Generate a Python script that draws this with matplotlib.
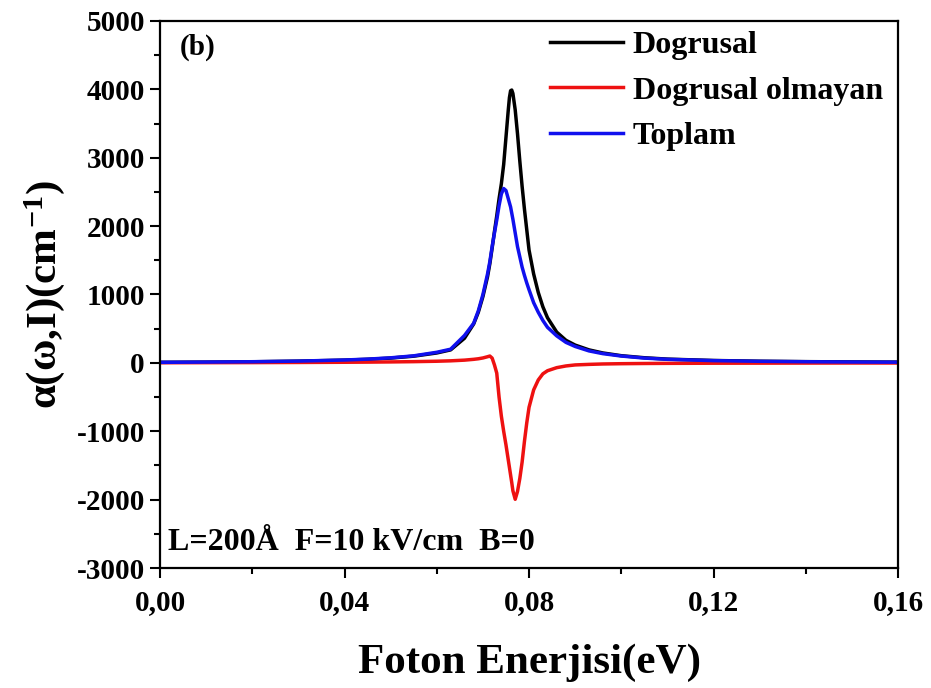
import matplotlib
matplotlib.use("Agg")
import matplotlib.pyplot as plt
from matplotlib.ticker import MultipleLocator, FuncFormatter

plt.rcParams['font.family'] = ['Liberation Serif', 'DejaVu Serif']
plt.rcParams['font.weight'] = 'bold'
plt.rcParams['mathtext.fontset'] = 'custom'
plt.rcParams['mathtext.rm'] = 'Liberation Serif:bold'
plt.rcParams['mathtext.it'] = 'Liberation Serif:bold'
plt.rcParams['mathtext.bf'] = 'Liberation Serif:bold'
plt.rcParams['axes.unicode_minus'] = False

# photon energy (eV)
energy = [0, 0.01, 0.02, 0.03, 0.04, 0.045, 0.05, 0.055, 0.06, 0.063, 0.066,
          0.068, 0.069, 0.070, 0.071, 0.0715, 0.072, 0.0725, 0.073, 0.0735,
          0.074, 0.0745, 0.075, 0.0755, 0.07575, 0.076, 0.07625, 0.0765,
          0.077, 0.0775, 0.078, 0.0785, 0.079, 0.0795, 0.080, 0.081, 0.082,
          0.083, 0.084, 0.086, 0.088, 0.090, 0.093, 0.096, 0.10, 0.105, 0.11,
          0.12, 0.13, 0.14, 0.15, 0.16]

# linear absorption (Dogrusal)
linear = [8, 11, 16, 25, 40, 52, 70, 98, 145, 190, 360,
          570, 740, 970, 1260, 1450, 1680, 1920, 2150, 2400,
          2620, 2900, 3300, 3700, 3880, 3980, 3990, 3940,
          3700, 3350, 2950, 2580, 2250, 1950, 1650, 1300, 1030,
          820, 660, 450, 330, 260, 190, 145, 105, 75, 55,
          35, 24, 18, 14, 11]

# nonlinear absorption (Dogrusal olmayan)
nonlinear = [2, 3, 4, 6, 9, 11, 14, 18, 24, 30, 40,
             52, 60, 72, 90, 100, 70, -30, -150, -500,
             -780, -1000, -1200, -1420, -1530, -1640, -1750, -1870,
             -1995, -1880, -1690, -1450, -1150, -880, -650, -395, -250,
             -160, -115, -70, -45, -30, -22, -16, -12, -9, -7,
             -5, -4, -3, -2, -2]

# total (Toplam)
total = [8, 12, 17, 26, 42, 55, 74, 103, 155, 200, 400,
         580, 760, 1000, 1300, 1480, 1700, 1900, 2090, 2300,
         2470, 2550, 2520, 2400, 2340, 2280, 2190, 2100,
         1900, 1700, 1550, 1400, 1280, 1170, 1070, 880, 740,
         620, 520, 395, 300, 240, 175, 135, 100, 70, 52,
         33, 23, 17, 13, 10]

fig = plt.figure(figsize=(9.31, 6.88), dpi=100)
ax = fig.add_axes([0.1719, 0.1744, 0.7927, 0.7951])

ax.plot(energy, linear, color='black', lw=2.5, label='Dogrusal')
ax.plot(energy, nonlinear, color='#ee1111', lw=2.5, label='Dogrusal olmayan')
ax.plot(energy, total, color='#1010ee', lw=2.5, label='Toplam')

ax.set_xlim(0, 0.16)
ax.set_ylim(-3000, 5000)
ax.xaxis.set_major_locator(MultipleLocator(0.04))
ax.xaxis.set_minor_locator(MultipleLocator(0.02))
ax.yaxis.set_major_locator(MultipleLocator(1000))
ax.yaxis.set_minor_locator(MultipleLocator(500))
ax.xaxis.set_major_formatter(FuncFormatter(lambda v, p: ('%.2f' % v).replace('.', ',')))
ax.yaxis.set_major_formatter(FuncFormatter(lambda v, p: '%d' % v))

ax.tick_params(which='both', direction='out', width=1.5, labelsize=21)
ax.tick_params(which='major', length=7)
ax.tick_params(which='minor', length=4)
ax.tick_params(axis='x', which='major', pad=8)
ax.tick_params(axis='y', which='major', pad=4)
for s in ax.spines.values():
    s.set_linewidth(1.6)

ax.set_xlabel('Foton Enerjisi(eV)', fontsize=31, fontweight='bold', labelpad=20)
ax.set_ylabel('α(ω,I)(cm$^{-1}$)', fontsize=31, fontweight='bold', labelpad=7)

ax.text(0.027, 0.977, '(b)', transform=ax.transAxes, fontsize=21,
        fontweight='bold', va='top', ha='left')
ax.text(0.011, 0.047, 'L=200Å  F=10 kV/cm  B=0', transform=ax.transAxes,
        fontsize=23, fontweight='bold', va='center', ha='left')

ax.legend(loc='upper left', bbox_to_anchor=(0.528, 0.982), frameon=False,
          fontsize=23, handlelength=2.3, handletextpad=0.3,
          labelspacing=0.5, borderaxespad=0, borderpad=0)

fig.savefig('out.png', dpi=100)
